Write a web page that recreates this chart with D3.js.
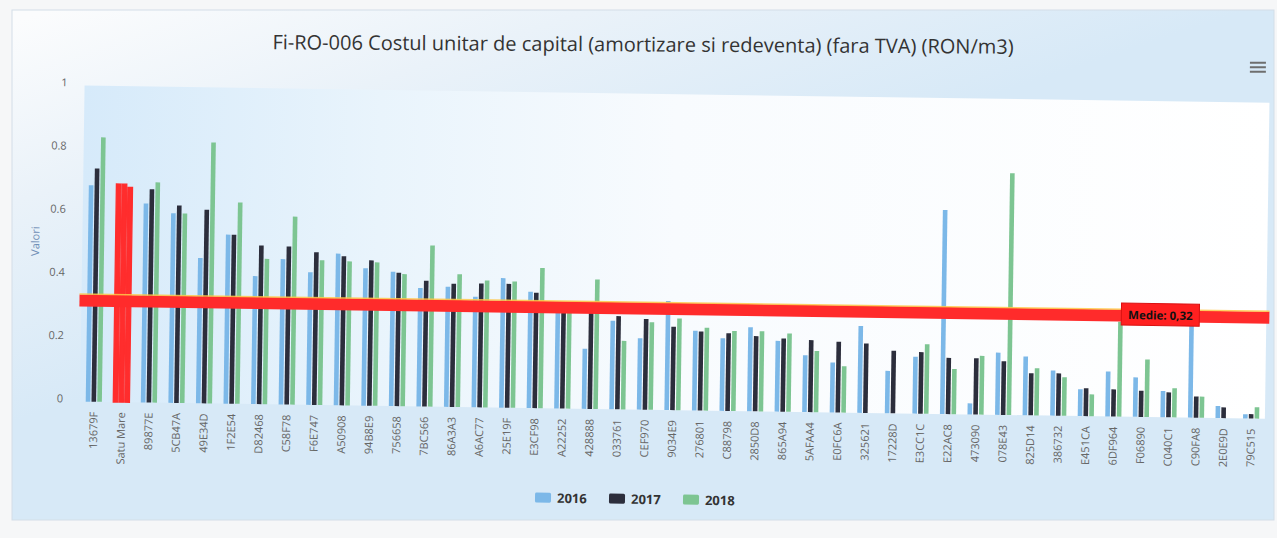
<!DOCTYPE html>
<html><head><meta charset="utf-8">
<script src="https://cdn.jsdelivr.net/npm/d3@7"></script>
<style>
html,body{margin:0;padding:0;background:#f6f7f8;}
svg{display:block;}
text{font-family:"Open Sans",sans-serif;}
</style></head><body>
<svg id="chart" width="1277" height="538"></svg>
<script>
const categories = ["13679F","Satu Mare","89877E","5CB47A","49E34D","1F2E54","D82468","C58F78","F6E747","A50908","94B8E9","756658","7BC566","86A3A3","A6AC77","25E19F","E3CF98","A22252","428888","033761","CEF970","9034E9","276801","C88798","2850D8","865A94","5AFAA4","E0FC6A","325621","17228D","E3CC1C","E22AC8","473090","078E43","825D14","386732","E451CA","6DF964","F06890","C040C1","C90FA8","2E0E9D","79C515"];
const series2016 = [0.685,0.69,0.63,0.60,0.46,0.535,0.405,0.46,0.42,0.48,0.435,0.425,0.375,0.38,0.35,0.41,0.368,0.31,0.19,0.28,0.226,0.345,0.252,0.23,0.266,0.224,0.18,0.158,0.275,0.134,0.18,0.646,0.035,0.197,0.186,0.143,0.085,0.142,0.125,0.083,0.30,0.038,0.013];
const series2017 = [0.738,0.69,0.675,0.625,0.613,0.535,0.502,0.50,0.483,0.472,0.46,0.422,0.398,0.39,0.392,0.392,0.365,0.315,0.32,0.295,0.287,0.264,0.25,0.246,0.238,0.232,0.228,0.224,0.22,0.198,0.195,0.178,0.178,0.17,0.133,0.134,0.088,0.086,0.083,0.079,0.067,0.034,0.014];
const series2018 = [0.837,0.68,0.697,0.60,0.826,0.637,0.46,0.595,0.458,0.456,0.454,0.418,0.51,0.42,0.402,0.40,0.444,0.305,0.41,0.217,0.277,0.29,0.262,0.253,0.254,0.248,0.194,0.147,null,null,0.22,0.143,0.186,0.765,0.149,0.122,0.069,0.30,0.182,0.092,0.067,null,0.036];
const seriesNames = ["2016","2017","2018"];
const yTickValues = [0,0.2,0.4,0.6,0.8,1];
const yTickLabels = ["0","0.2","0.4","0.6","0.8","1"];
const highlightCategory = "Satu Mare";
const meanValue = 0.32;
const meanLabel = "Medie: 0,32";
const titleText = "Fi-RO-006 Costul unitar de capital (amortizare si redeventa) (fara TVA) (RON/m3)";
const yAxisTitle = "Valori";

const colors = {"2016":"#7cb8e8","2017":"#2c2e3c","2018":"#7dc592"};
const highlightColor = "#ff2d2d";

const rows = categories.map((c,i)=>({cat:c, vals:[series2016[i],series2017[i],series2018[i]]}));

const svg = d3.select("#chart");
const defs = svg.append("defs");

const gBox = defs.append("linearGradient").attr("id","boxGrad").attr("gradientUnits","userSpaceOnUse")
  .attr("x1",20).attr("y1",20).attr("x2",140).attr("y2",380);
gBox.append("stop").attr("offset",0).attr("stop-color","#fbfcfd");
gBox.append("stop").attr("offset",0.45).attr("stop-color","#eaf2f9");
gBox.append("stop").attr("offset",1).attr("stop-color","#d7e9f7");

const gPlot = defs.append("linearGradient").attr("id","plotGrad").attr("x1",0).attr("y1",0).attr("x2",1).attr("y2",0);
gPlot.append("stop").attr("offset",0).attr("stop-color","#d6eafa");
gPlot.append("stop").attr("offset",0.25).attr("stop-color","#e9f4fc");
gPlot.append("stop").attr("offset",0.5).attr("stop-color","#f8fbfe");
gPlot.append("stop").attr("offset",1).attr("stop-color","#ffffff");

// chart container
svg.append("rect").attr("x",12).attr("y",10).attr("width",1262).attr("height",510)
  .attr("fill","url(#boxGrad)").attr("stroke","#d3dee7").attr("stroke-width",1);

// title group
const gTitle = svg.append("g").attr("transform","rotate(0.35,640,50)");
gTitle.append("text").attr("x",643).attr("y",51.5).attr("text-anchor","middle")
  .attr("font-size",20).attr("fill","#333").text(titleText);
[59,63.5,68].forEach(yy=>{
  gTitle.append("line").attr("x1",1250).attr("x2",1266).attr("y1",yy).attr("y2",yy)
    .attr("stroke","#6e6e6e").attr("stroke-width",2);
});

// plot group (slightly rotated as in the photographed reference)
const plot = svg.append("g").attr("transform","rotate(0.83,90,401.7)");

const x = d3.scaleBand().domain(categories).range([80,1265]).paddingInner(0.33).paddingOuter(0.165);
const xs = d3.scaleBand().domain(seriesNames).range([0,x.bandwidth()]).padding(0.2);
const y = d3.scaleLinear().domain([0,1]).range([401.7,85.7]);

plot.append("rect").attr("x",x.range()[0]).attr("y",y(1)).attr("width",x.range()[1]-x.range()[0])
  .attr("height",y(0)-y(1)).attr("fill","url(#plotGrad)");

// y axis
const yAxis = plot.append("g").attr("transform","translate(80,0)")
  .call(d3.axisLeft(y).tickValues(yTickValues).tickFormat((d,i)=>yTickLabels[i]).tickSize(0).tickPadding(17));
yAxis.select(".domain").remove();
yAxis.selectAll("text").attr("font-family","'Open Sans',sans-serif").attr("font-size",11)
  .attr("fill","#666").attr("transform","translate(0,-3)");

plot.append("text").attr("transform","translate(37,242) rotate(-90)").attr("text-anchor","middle")
  .attr("font-size",11).attr("fill","#6f8db5").text(yAxisTitle);

// bars
const groups = plot.append("g").selectAll("g.cat").data(rows).join("g").attr("class","cat")
  .attr("transform",d=>`translate(${x(d.cat)},0)`);
groups.selectAll("rect").data(d=>d.vals.map((v,i)=>({v, s:seriesNames[i], hl:d.cat===highlightCategory})).filter(e=>e.v!=null))
  .join("rect")
  .attr("x",e=>xs(e.s)).attr("y",e=>y(e.v)).attr("width",xs.bandwidth())
  .attr("height",e=>y(0)-y(e.v))
  .attr("fill",e=>e.hl?highlightColor:colors[e.s])
  .attr("stroke",e=>e.hl?highlightColor:"none").attr("stroke-width",e=>e.hl?1.3:0);

// x axis labels
const xAxis = plot.append("g").attr("transform",`translate(0,${y(0)})`)
  .call(d3.axisBottom(x).tickSize(0));
xAxis.select(".domain").remove();
xAxis.selectAll("text").attr("font-family","'Open Sans',sans-serif").attr("font-size",11).attr("fill","#666")
  .attr("transform","rotate(-90)").attr("x",-10).attr("y",0).attr("dy","0.35em").attr("text-anchor","end");

// mean plot line
const ym = y(meanValue);
plot.append("line").attr("x1",x.range()[0]-2).attr("x2",x.range()[1]+3).attr("y1",ym).attr("y2",ym)
  .attr("stroke","#ff2b2b").attr("stroke-width",12);
plot.append("line").attr("x1",x.range()[0]-2).attr("x2",x.range()[1]+3).attr("y1",ym-6.3).attr("y2",ym-6.3)
  .attr("stroke","#ffc94a").attr("stroke-width",1.5).attr("opacity",0.85);
const lblX = x.range()[1]-106;
plot.append("rect").attr("x",lblX-39).attr("y",ym-12.5).attr("width",78).attr("height",22)
  .attr("fill","#ff2020").attr("stroke","#d91212").attr("stroke-width",1);
plot.append("text").attr("x",lblX).attr("y",ym+3.5).attr("text-anchor","middle")
  .attr("font-size",11.5).attr("font-weight","bold").attr("fill","#111").text(meanLabel);

// legend
const legend = svg.append("g").attr("transform","rotate(0.8,640,500)");
const li = legend.selectAll("g").data(seriesNames).join("g")
  .attr("transform",(d,i)=>`translate(${535+i*74},0)`);
li.append("rect").attr("x",0).attr("y",494).attr("width",16).attr("height",10).attr("rx",1.5)
  .attr("fill",d=>colors[d]);
li.append("text").attr("x",22).attr("y",504).attr("font-size",13).attr("font-weight","bold")
  .attr("fill","#333").text(d=>d);
</script>
</body></html>
